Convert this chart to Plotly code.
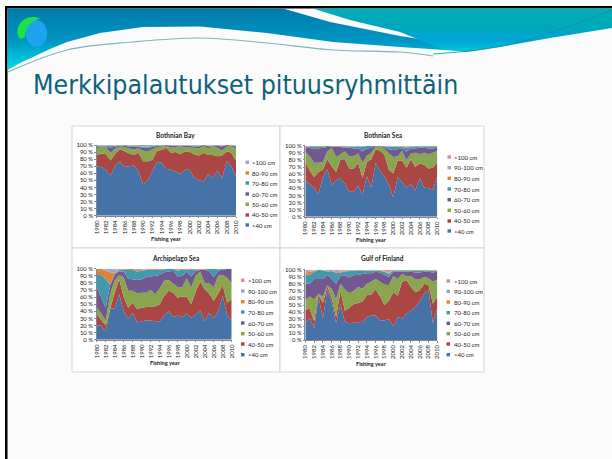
import numpy as np
import plotly.graph_objects as go

W, H = 612, 459
years = list(range(1980, 2011))
FONT = "Lato, Carlito, Calibri, sans-serif"
TITLE_FONT = "'Liberation Sans Narrow', 'DejaVu Sans Condensed', Lato, sans-serif"

page_title = "Merkkipalautukset pituusryhmittäin"
axis_title = "Fishing year"

# Values: upper edge of each stacked band, in percent
bay_lt40 = [70,69,65,57,71,77,69,70,71,63,44,50,63,76,75,66,65,62,59,65,65,54,50,48,59,53,64,53,77,70,55]
bay_lt50 = [86,88,87,78,88,94,91,88,86,89,77,77,79,92,93,96,89,90,87,91,90,87,85,89,86,86,84,85,91,89,78]
bay_lt60 = [95,97,97,89,95,98,97,95,94,95,92,91,94,97,98,99,96,97,96,97,96,96,95,99,95,97,96,92,98,98,95]
bay_lt70 = [98,98,98,96,98,99,99,98,98,97,96,96,97,99,99,100,99,98.5,98,99,98.5,98,98,100,98,98,99,98,100,99,98]
bay_lt80 = [99,99,99,98.5,99,99.5,99.5,99,98.5,98,98,97.5,98.5,99.5,99.5,100,99.5,99,98.5,99.5,99,99,99,100,99,99,99.5,99,100,99.5,99]
bay_lt90 = [99.2,99.2,99.2,98.8,99.2,99.6,99.6,99.2,98.8,98.5,98.3,98,98.8,99.6,99.6,100,99.6,99.3,98.8,99.6,99.3,99.3,99.3,100,99.3,99.3,99.6,99.3,100,99.6,99.3]
bay_all = [100] * 31

sea_lt40 = [51,46,41,32,56,67,45,51,55,46,35,35,44,31,57,41,76,64,57,45,27,56,49,41,46,37,55,41,40,38,57]
sea_lt50 = [78,65,56,63,66,81,71,63,81,81,68,68,76,55,77,81,95,93,87,66,61,79,79,69,81,70,75,73,68,69,77]
sea_lt60 = [91,85,76,76,77,92,97,84,88,92,85,85,89,76,86,90,99,99,96,89,84,85,93,80,89,90,88,90,88,90,93]
sea_lt70 = [98,97,95,96,97,98,98,98,98,97,97,96,96,92,96,97,100,99.5,98,95,94,95,96,92,96,96,97,97,96,96,97]
sea_lt80 = [99,99,99,98.5,99,99.5,99,99,99,99,98.5,98,99,98,99.5,99.5,100,100,99,98,98,98,98,97,98,99,99,99,99,99,99]
sea_lt90 = [99.5,99.5,99.8,99.5,99.5,99.7,99.5,99.5,99.5,99.5,99,98.5,99.3,98.5,99.7,99.7,100,100,99.5,98.5,98.5,98.5,98.5,98,98.5,99.3,99.3,99.5,99.5,99.5,99.5]
sea_lt100 = [99.8,99.8,99.9,99.8,99.8,99.8,99.8,99.8,99.8,99.8,99.5,99.3,99.6,99.3,99.8,99.9,100,100,99.8,99.3,99.3,99.3,99.3,99,99.3,99.7,99.7,99.8,99.8,99.8,99.8]
sea_all = [100] * 31

arch_lt40 = [20,20,12,44,44,64,40,29,38,24,26,27,27,26,26,34,40,32,34,32,37,31,35,41,26,38,30,40,62,34,27]
arch_lt50 = [36,28,20,44,66,85,60,45,52,43,45,46,46,47,50,62,69,66,59,61,61,50,68,82,71,65,55,65,77,52,57]
arch_lt60 = [46,37,27,65,84,91,88,69,69,65,66,66,70,64,72,83,84,79,74,74,87,74,90,96,80,79,74,90,91,87,79]
arch_lt70 = [75,60,45,77,92,96,96,86,85,84,85,88,89,90,91,95,96,97,89,90,96,89,97,98,98,97,88,97,99,99.5,100]
arch_lt80 = [91,91,85,77,93,98,99,98,98,96,97,98,99,98,99,99,100,100,97,99,99,98,99,99,99,100,100,99,100,100,100]
arch_lt90 = [100,100,97,95,94,99,100,100,99.5,98,98.5,99,100,99.5,100,100,100,100,99,100,100,99.5,100,100,100,100,100,100,100,100,100]
arch_lt100 = [100,100,99,100,99,99.5,100,100,100,99.5,99.5,100,100,100,100,100,100,100,99.5,100,100,100,100,100,100,100,100,100,100,100,100]
arch_all = [100] * 31

gulf_lt40 = [25,32,17,62,31,72,54,24,51,26,24,25,25,27,33,35,35,28,28,30,20,33,31,38,42,47,55,66,71,24,45]
gulf_lt50 = [43,45,27,65,53,77,60,33,70,42,46,51,53,55,64,65,72,62,50,56,68,63,83,85,76,68,71,80,78,52,62]
gulf_lt60 = [57,62,58,66,62,78,73,58,80,72,67,70,76,73,80,83,87,83,79,78,91,87,94,91,91,86,86,90,88,83,86]
gulf_lt70 = [80,80,87,87,87,93,87,80,92,92,89,92,93,94,95,95,97,96,93,90,97,97,97,97,97,96,96,97,97,96,97]
gulf_lt80 = [93,93,97,100,99,97,98,95,96,97,98,98,99,99,98,98,98,98,97,94,99,99,99,99,99,99,99,99,99,98,99]
gulf_lt90 = [96,97,98,100,99.5,98,98.5,96.5,97,98,99,99,99.5,99.5,99,99,99,99,98,95,99.5,99.5,99.5,99.5,99.5,99.5,99.5,99.5,99.5,98.5,99.5]
gulf_lt100 = [98,98.5,99,100,100,99.5,99.5,98,98.5,99,99.5,99.5,100,100,99.5,99.5,99.5,99.5,98.5,96,100,100,100,100,100,100,100,100,100,99,100]
gulf_all = [100] * 31

labels_7 = ["<40 cm", "40-50 cm", "50-60 cm", "60-70 cm", "70-80 cm", "80-90 cm", ">100 cm"]
labels_8 = ["<40 cm", "40-50 cm", "50-60 cm", "60-70 cm", "70-80 cm", "80-90 cm", "90-100 cm", ">100 cm"]
band_colors = ["#4572A7", "#AA4643", "#89A54E", "#71588F", "#4198AF", "#DB843D", "#93A9CF", "#D19392"]

panels = [
    dict(title="Bothnian Bay", edges=[bay_lt40, bay_lt50, bay_lt60, bay_lt70, bay_lt80, bay_lt90, bay_all],
         labels=labels_7, colors=band_colors[:6] + ["#93A9CF"],
         plot=(96.7, 236, 145, 215.7), tx=175, ty=135, ax=166, ay=238,
         leg_box=245.5, leg_text=250, leg_y=[225, 215, 204.3, 194, 183, 173, 162.3]),
    dict(title="Bothnian Sea", edges=[sea_lt40, sea_lt50, sea_lt60, sea_lt70, sea_lt80, sea_lt90, sea_lt100, sea_all],
         labels=labels_8, colors=band_colors,
         plot=(305.3, 437.3, 145.7, 216.7), tx=382.7, ty=135, ax=372, ay=239,
         leg_box=447.5, leg_text=452, leg_y=[231, 221, 210.3, 199.7, 189, 178.3, 167.7, 157]),
    dict(title="Archipelago Sea", edges=[arch_lt40, arch_lt50, arch_lt60, arch_lt70, arch_lt80, arch_lt90, arch_lt100, arch_all],
         labels=labels_8, colors=band_colors,
         plot=(96.7, 231.7, 268.7, 339.7), tx=175, ty=258, ax=165, ay=362,
         leg_box=241, leg_text=246, leg_y=[354.7, 344, 333.7, 323, 312, 301.7, 291, 280.3]),
    dict(title="Gulf of Finland", edges=[gulf_lt40, gulf_lt50, gulf_lt60, gulf_lt70, gulf_lt80, gulf_lt90, gulf_lt100, gulf_all],
         labels=labels_8, colors=band_colors,
         plot=(305.3, 437.3, 269.7, 340.3), tx=382, ty=258, ax=371, ay=363,
         leg_box=446.5, leg_text=451.7, leg_y=[354.7, 344, 333.7, 323.3, 312.7, 302, 291.3, 281]),
]

chart_boxes = [(72, 280, 126, 248), (280, 484, 126, 248), (72, 280, 248, 372), (280, 484, 248, 372)]

def px(x):
    return x / W

def py(y):
    return 1 - y / H

fig = go.Figure()
shapes, annotations = [], []

# Page frame
shapes += [
    dict(type="rect", xref="paper", yref="paper", x0=0, x1=1, y0=py(6), y1=1, fillcolor="white", line_width=0, layer="below"),
    dict(type="rect", xref="paper", yref="paper", x0=0, x1=px(5), y0=0, y1=1, fillcolor="white", line_width=0, layer="below"),
    dict(type="rect", xref="paper", yref="paper", x0=px(5), x1=1, y0=py(8.5), y1=py(6), fillcolor="black", line_width=0, layer="below"),
    dict(type="rect", xref="paper", yref="paper", x0=px(5), x1=px(7.5), y0=0, y1=py(6), fillcolor="black", line_width=0, layer="below"),
]

# Header banner, drawn on a full-page pixel axis
edge_x = [7.5, 20, 33, 50, 67, 100, 143, 200, 267, 333, 400, 445]
edge_y = [70, 63, 57, 49, 42, 33, 27, 26.5, 33, 42, 47, 50]
fig.add_trace(go.Scatter(
    x=edge_x + [445, 400, 330, 283, 7.5], y=edge_y + [43, 36, 22, 8.5, 8.5],
    mode="lines", line_width=0, fill="toself", hoverinfo="skip", showlegend=False,
    fillgradient=dict(type="vertical", colorscale=[[0, "#00DDEB"], [0.45, "#0098C4"], [1, "#0079A8"]]),
    xaxis="x", yaxis="y"))
fig.add_trace(go.Scatter(
    x=[313, 350, 400, 445, 467, 500, 550, 612, 612, 313], y=[8.5, 20, 32, 50, 52, 47, 38, 28, 8.5, 8.5],
    mode="lines", line_width=0, fill="toself", hoverinfo="skip", showlegend=False,
    fillgradient=dict(type="vertical", colorscale=[[0, "#00CCD8"], [0.25, "#00A4D8"], [0.65, "#00A8B8"], [1, "#00AEB8"]]),
    xaxis="x", yaxis="y"))
fig.add_trace(go.Scatter(
    x=[8, 67, 133, 200, 267, 333, 400, 433], y=[72, 50, 42, 38, 43, 50, 52, 56],
    mode="lines", line=dict(color="#7FB4BE", width=1.2, shape="spline"), hoverinfo="skip", showlegend=False,
    xaxis="x", yaxis="y"))
fig.add_trace(go.Scatter(
    x=[433, 477, 520, 567, 612], y=[54, 50, 42, 27, 10],
    mode="lines", line=dict(color="#1A8C9C", width=0.8, shape="spline"), hoverinfo="skip", showlegend=False,
    xaxis="x", yaxis="y"))

# Logo
shapes += [
    dict(type="circle", xref="x", yref="y", x0=26, x1=47, y0=20, y1=47, fillcolor="#1EA4EE", line_width=0, layer="above"),
    dict(type="path", xref="x", yref="y", layer="above", line_width=0, fillcolor="#1EE04A",
         path="M 19 38 C 14 28 22 16 34 17 C 37 17 39 18 40 19 C 32 20 26 26 25 37 C 23 39 20 39 19 38 Z"),
]

annotations.append(dict(xref="paper", yref="paper", x=px(31), y=py(84), xanchor="left", yanchor="middle",
                        text=page_title, showarrow=False, font=dict(family=TITLE_FONT, size=26.5, color="#0D6279")))

# Chart boxes
for x0, x1, y0, y1 in chart_boxes:
    shapes.append(dict(type="rect", xref="paper", yref="paper", x0=px(x0), x1=px(x1), y0=py(y1), y1=py(y0),
                       fillcolor="#FFFFFF", line=dict(color="#D4D4D4", width=1), layer="below"))

layout_axes = {}
for i, p in enumerate(panels):
    n = i + 2
    xa, ya = f"x{n}", f"y{n}"
    edges = np.maximum.accumulate(np.array(p["edges"], dtype=float), axis=0)
    values = np.vstack([edges[0], np.diff(edges, axis=0)])
    for label, color, v in zip(p["labels"], p["colors"], values):
        fig.add_trace(go.Scatter(x=years, y=v.tolist(), name=label, stackgroup=f"s{n}", mode="none",
                                 fillcolor=color, showlegend=False, xaxis=xa, yaxis=ya))
    x0, x1, y0, y1 = p["plot"]
    layout_axes[f"xaxis{n}"] = dict(
        domain=[px(x0), px(x1)], range=[1980, 2010], anchor=ya, tick0=1980, dtick=2, tickangle=-90, automargin=False,
        ticks="outside", ticklen=1.5, tickwidth=0.6, tickcolor="#888888", showgrid=False, zeroline=False,
        showline=True, linecolor="#888888", linewidth=0.6, tickfont=dict(family=FONT, size=6, color="#222222"))
    layout_axes[f"yaxis{n}"] = dict(
        domain=[py(y1), py(y0)], range=[0, 100], anchor=xa, tick0=0, dtick=10, ticksuffix=" %", automargin=False,
        ticks="outside", ticklen=1.5, tickwidth=0.6, tickcolor="#888888", showgrid=False, zeroline=False,
        showline=True, linecolor="#888888", linewidth=0.6, tickfont=dict(family=FONT, size=6, color="#222222"))
    annotations.append(dict(xref="paper", yref="paper", x=px(p["tx"]), y=py(p["ty"]), xanchor="center", yanchor="middle",
                            text=f"<b>{p['title']}</b>", showarrow=False, font=dict(family=FONT, size=6.5, color="#222222")))
    annotations.append(dict(xref="paper", yref="paper", x=px(p["ax"]), y=py(p["ay"]), xanchor="center", yanchor="middle",
                            text=f"<b>{axis_title}</b>", showarrow=False, font=dict(family=FONT, size=5.6, color="#222222")))
    for label, color, ly in zip(p["labels"], p["colors"], p["leg_y"]):
        shapes.append(dict(type="rect", xref="paper", yref="paper", x0=px(p["leg_box"]), x1=px(p["leg_box"] + 3.5),
                           y0=py(ly + 1.7), y1=py(ly - 1.7), fillcolor=color, line_width=0, layer="above"))
        annotations.append(dict(xref="paper", yref="paper", x=px(p["leg_text"]), y=py(ly), xanchor="left", yanchor="middle",
                                text=label, showarrow=False, font=dict(family=FONT, size=6, color="#222222")))

fig.update_layout(
    template="none",
    width=W, height=H, margin=dict(l=0, r=0, t=0, b=0, pad=0), autosize=False,
    paper_bgcolor="#FBFBFB", plot_bgcolor="rgba(0,0,0,0)", showlegend=False,
    xaxis=dict(domain=[0, 1], range=[0, W], visible=False, fixedrange=True, automargin=False),
    yaxis=dict(domain=[0, 1], range=[H, 0], visible=False, fixedrange=True, automargin=False),
    shapes=shapes, annotations=annotations, **layout_axes)

fig.write_html("out.html", config=dict(displayModeBar=False),
               post_script="document.body.style.margin='0';")
